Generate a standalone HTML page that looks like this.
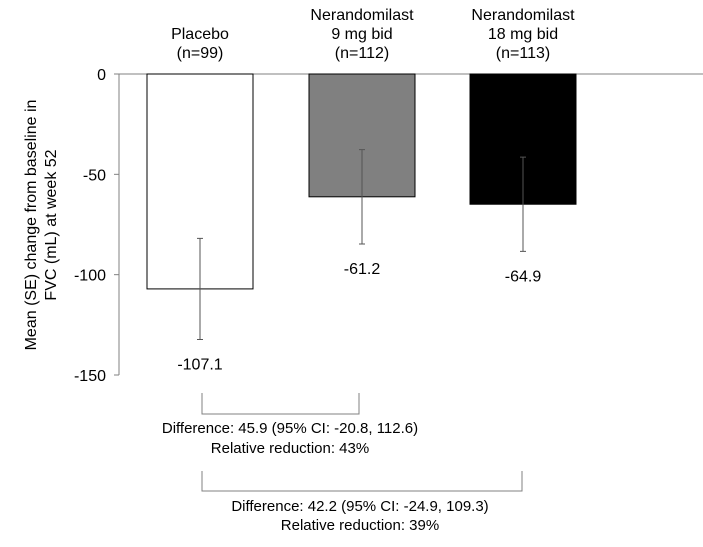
<!DOCTYPE html>
<html><head><meta charset="utf-8"><style>
body{margin:0;background:#fff;}
svg{display:block;font-family:"Liberation Sans",Arial,sans-serif;}
</style></head><body>
<svg id="c" width="703" height="547"></svg>
<script>
const categories=["Placebo","Nerandomilast 9 mg bid","Nerandomilast 18 mg bid"];
const headerLines=[["Placebo","(n=99)"],["Nerandomilast","9 mg bid","(n=112)"],["Nerandomilast","18 mg bid","(n=113)"]];
const means=[-107.1,-61.2,-64.9];
const se=[25.2,23.5,23.5];
const valueLabels=["-107.1","-61.2","-64.9"];
const fills=["#ffffff","#808080","#000000"];
const yTicks=[0,-50,-100,-150];
const NS="http://www.w3.org/2000/svg";
const svg=document.getElementById("c");
const y=v=>74+(-v)*(301/150);
const barLeft=[147,309,470], barW=106;
function el(t,a,txt){const e=document.createElementNS(NS,t);for(const k in a)e.setAttribute(k,a[k]);if(txt!==undefined)e.textContent=txt;svg.appendChild(e);return e;}
// axes
let ax=el("line",{x1:119,y1:y(0),x2:119,y2:y(-150),stroke:"#808080","stroke-width":1});


let zl=el("line",{x1:119,y1:y(0),x2:703,y2:y(0),stroke:"#808080","stroke-width":1});


yTicks.forEach(t=>{
 let tk=el("line",{x1:114,y1:y(t),x2:119,y2:y(t),stroke:"#808080"});
 
 
 let tl=el("text",{x:106,y:y(t)+6,"text-anchor":"end","font-size":16},String(t));
 
 
});
let yt=el("text",{transform:"translate(40,225) rotate(-90)","text-anchor":"middle","font-size":16});


["Mean (SE) change from baseline in","FVC (mL) at week 52"].forEach((s,i)=>{const ts=document.createElementNS(NS,"tspan");ts.setAttribute("x",0);ts.setAttribute("y",i*20-4);ts.textContent=s;yt.appendChild(ts);});
means.forEach((m,i)=>{
 const cx=barLeft[i]+barW/2;
 let b=el("rect",{x:barLeft[i],y:y(0),width:barW,height:y(m)-y(0),fill:fills[i],stroke:"#000","stroke-width":1});
 
 
 const t=y(m+se[i]),bt=y(m-se[i]);
 let e=el("path",{d:`M${cx},${t}V${bt}M${cx-3},${t}H${cx+3}M${cx-3},${bt}H${cx+3}`,stroke:"#555","stroke-width":1,fill:"none"});
 
 
 let v=el("text",{x:cx,y:bt+30,"text-anchor":"middle","font-size":16},valueLabels[i]);
 
 
 const lines=headerLines[i];
 lines.forEach((s,j)=>{
  let h=el("text",{x:cx,y:64-(lines.length-1-j)*19-6,"text-anchor":"middle","font-size":16},s);
  
  
 });
});
let b1=el("path",{d:"M202,393V414H359V393",stroke:"#808080",fill:"none"});


let b2=el("path",{d:"M202,471V491H522V471",stroke:"#808080",fill:"none"});


[[290,433,"Difference: 45.9 (95% CI: -20.8, 112.6)"],[290,453,"Relative reduction: 43%"],[360,511,"Difference: 42.2 (95% CI: -24.9, 109.3)"],[360,530,"Relative reduction: 39%"]].forEach(a=>{
 let t=el("text",{x:a[0],y:a[1],"text-anchor":"middle","font-size":15},a[2]);
 
 
});
</script>
</body></html>
